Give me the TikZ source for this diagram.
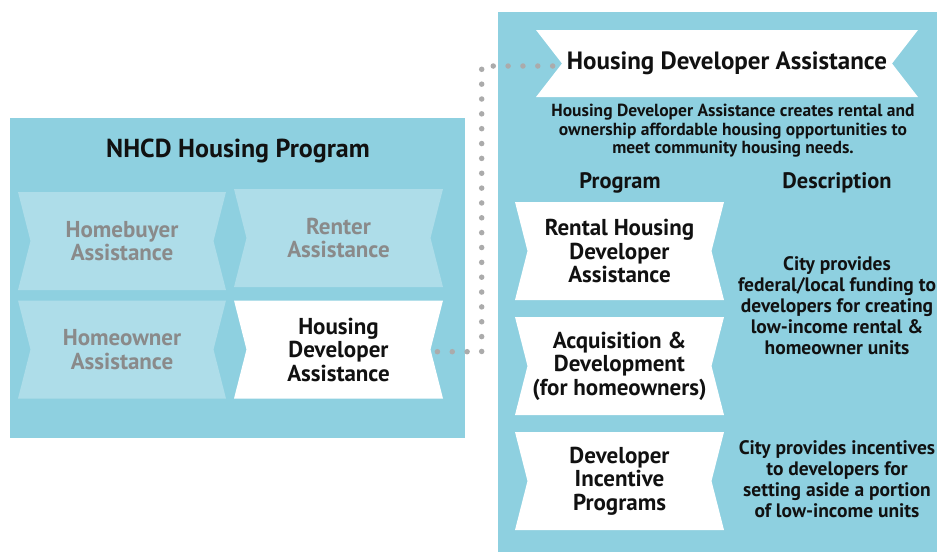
\documentclass[tikz,border=0pt]{standalone}
\usepackage{fontspec}
\setmainfont{PT Sans}
\begin{document}
\begin{tikzpicture}[x=1pt,y=-1pt,
  ribbon/.style n args={3}{minimum width=#1, minimum height=#2, inner sep=0pt,
    align=center, text=ink,
    path picture={\fill[#3]
      (path picture bounding box.north west) -- (path picture bounding box.north east)
      -- ([xshift=-\notch]path picture bounding box.east)
      -- (path picture bounding box.south east) -- (path picture bounding box.south west)
      -- ([xshift=\notch]path picture bounding box.west) -- cycle;}},
  boxtext/.style={font=\fontsize{23}{23.5}\selectfont\bfseries},
  faded/.style={text=fadegray},
  dotline/.style={draw=dotgray, line width=5.5pt, line cap=round, dash pattern=on 0pt off 14.85pt},
  label/.style={text=ink, align=center, inner sep=0pt}]
\definecolor{panelblue}{HTML}{8ED0E0}
\definecolor{lightblue}{HTML}{AEDDE9}
\definecolor{fadegray}{HTML}{8A8A8A}
\definecolor{dotgray}{HTML}{ABABAB}
\definecolor{ink}{HTML}{111111}
\def\notch{12.5pt}
\useasboundingbox[fill=white] (0,0) rectangle (937,552);

% left panel: the overall program
\fill[panelblue] (10,118) rectangle (465,438);
\node[label, font=\fontsize{26}{28}\selectfont\bfseries] (nhcd) at (238,151) {NHCD Housing Program};

\node[ribbon={208pt}{98pt}{lightblue}, boxtext, faded] (buyer) at (122,241) {Homebuyer\\Assistance};
\node[ribbon={209pt}{98pt}{lightblue}, boxtext, faded] (renter) at (338.5,238) {Renter\\Assistance};
\node[ribbon={208pt}{98pt}{lightblue}, boxtext, faded] (owner) at (122,349.5) {Homeowner\\Assistance};
\node[ribbon={209pt}{98pt}{white}, boxtext] (hda) at (338.5,349.5) {Housing\\Developer\\Assistance};

% right panel: developer assistance detail
\fill[panelblue] (498,12) rectangle (937,552);
\def\notch{26pt}
\node[ribbon={382pt}{67pt}{white}, font=\fontsize{25}{27}\selectfont\bfseries] (hdr) at (727,63.5) {Housing Developer Assistance};
\def\notch{12.5pt}

\node[label, font=\fontsize{17.5}{18.5}\selectfont\bfseries] (intro) at (733,131)
  {Housing Developer Assistance creates rental and\\ownership affordable housing opportunities to\\meet community housing needs.};
\node[label, font=\fontsize{22.4}{24}\selectfont\bfseries] (colprog) at (620,183) {Program};
\node[label, font=\fontsize{22.4}{24}\selectfont\bfseries] (coldesc) at (837,183) {Description};

\node[ribbon={209pt}{98pt}{white}, boxtext] (rental) at (619.5,251) {Rental Housing\\Developer\\Assistance};
\node[ribbon={209pt}{98pt}{white}, boxtext] (acq) at (619.5,366) {Acquisition \&\\Development\\(for homeowners)};
\node[ribbon={209pt}{98pt}{white}, boxtext] (incent) at (619.5,481) {Developer\\Incentive\\Programs};

\node[label, font=\fontsize{19.5}{21}\selectfont\bfseries] (desc1) at (837,306)
  {City provides\\federal/local funding to\\developers for creating\\low-income rental \&\\homeowner units};
\node[label, font=\fontsize{19.5}{21}\selectfont\bfseries] (desc2) at (837,479.5)
  {City provides incentives\\to developers for\\setting aside a portion\\of low-income units};

% dotted link from the program box to the detail header
\coordinate (elbow) at (481.7,66);
\draw[dotline] ([xshift=-5.8pt,yshift=-2.2pt]hda.east) -| (elbow) -- ([xshift=17pt,yshift=-2.5pt]hdr.west);
\end{tikzpicture}
\end{document}
